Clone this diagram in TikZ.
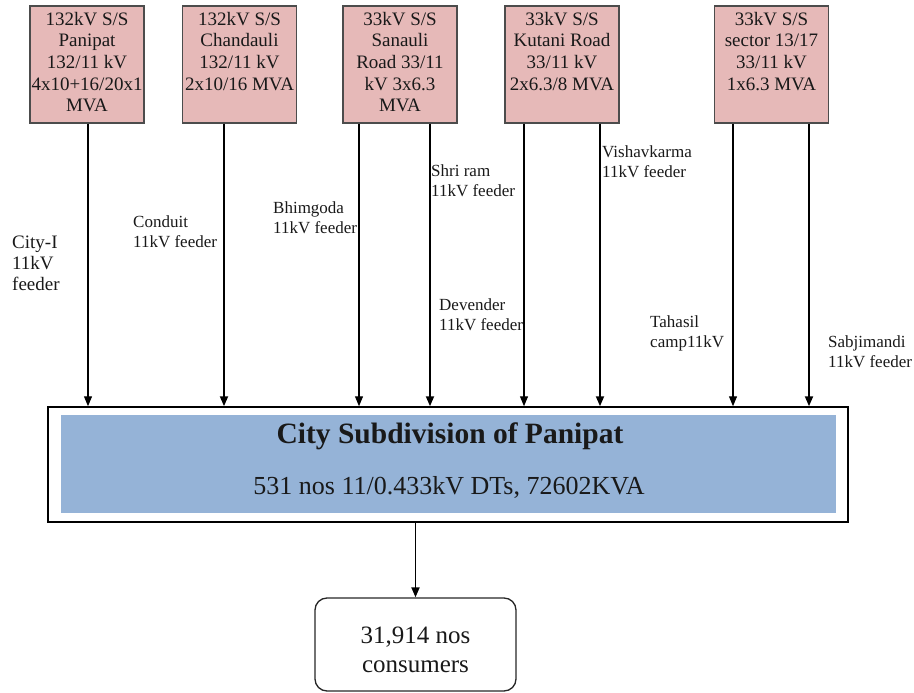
\documentclass[tikz,border=0pt]{standalone}
\usepackage{fontspec}
\setmainfont{Liberation Serif}
\usetikzlibrary{arrows.meta}
\definecolor{pinkbox}{RGB}{230,185,184}
\definecolor{bluebox}{RGB}{149,179,215}
\definecolor{txt}{RGB}{25,25,25}
\begin{document}
\begin{tikzpicture}[x=1pt,y=-1pt,
  ssbox/.style={draw=black!70, line width=1.3pt, fill=pinkbox, minimum width=114pt, minimum height=117pt, inner sep=0pt},
  sstext/.style={anchor=north, align=center, inner sep=0pt, font=\fontsize{19}{21.6}\selectfont, text=txt},
  feed/.style={anchor=north west, align=left, inner sep=0pt, font=\fontsize{17}{20}\selectfont, text=txt},
  arr/.style={-{Triangle[length=10pt,width=8pt]}, line width=1.2pt},
  arrthick/.style={-{Triangle[length=10pt,width=8pt]}, line width=1.9pt}
]
\useasboundingbox (0,0) rectangle (914,693);

% substation boxes
\node[ssbox] (b1) at (87,64.5) {};
\node[ssbox] (b2) at (239.5,64.5) {};
\node[ssbox] (b3) at (400,64.5) {};
\node[ssbox] (b4) at (562,64.5) {};
\node[ssbox] (b5) at (771.5,64.5) {};
\node[sstext] (t1) at ([yshift=-6.5pt]b1.north) {132kV S/S\\Panipat\\132/11 kV\\4x10+16/20x1\\MVA};
\node[sstext] (t2) at ([yshift=-6.5pt]b2.north) {132kV S/S\\Chandauli\\132/11 kV\\2x10/16 MVA};
\node[sstext] (t3) at ([yshift=-6.5pt]b3.north) {33kV S/S\\Sanauli\\Road 33/11\\kV 3x6.3\\MVA};
\node[sstext] (t4) at ([yshift=-6.5pt]b4.north) {33kV S/S\\Kutani Road\\33/11 kV\\2x6.3/8 MVA};
\node[sstext] (t5) at ([yshift=-6.5pt]b5.north) {33kV S/S\\sector 13/17\\33/11 kV\\1x6.3 MVA};

% subdivision box
\node[draw, line width=1.5pt, fill=white, minimum width=800pt, minimum height=115pt, inner sep=0pt] (big) at (448,464.5) {};
\node[fill=bluebox, minimum width=775pt, minimum height=98pt, inner sep=0pt] (inner) at (448.5,464) {};
\node[anchor=base, inner sep=0pt, font=\bfseries\fontsize{29.5}{31}\selectfont, text=txt] (title) at (450,443) {City Subdivision of Panipat};
\node[anchor=base, inner sep=0pt, font=\fontsize{26}{28}\selectfont, text=txt] (sub) at (449,494) {531 nos 11/0.433kV DTs, 72602KVA};

% consumers
\node[draw=black!85, rounded corners=12pt, line width=1.3pt, minimum width=201pt, minimum height=93pt, inner sep=0pt] (cons) at (415.5,644.5) {};
\node[anchor=north, align=center, inner sep=0pt, font=\fontsize{25}{29}\selectfont, text=txt] (ctext) at (415.5,626.5) {31,914 nos\\consumers};

% feeders
\coordinate (f1) at ([xshift=1pt]b1.south);
\coordinate (f2) at ([xshift=-15.5pt]b2.south);
\coordinate (f3) at ([xshift=-41pt]b3.south);
\coordinate (f4) at ([xshift=30pt]b3.south);
\coordinate (f5) at ([xshift=-38pt]b4.south);
\coordinate (f6) at ([xshift=38pt]b4.south);
\coordinate (f7) at ([xshift=-38.5pt]b5.south);
\coordinate (f8) at ([xshift=37.5pt]b5.south);
\draw[arr] (f1) -- (f1 |- big.north);
\draw[arrthick] (f2) -- (f2 |- big.north);
\draw[arr] (f3) -- (f3 |- big.north);
\draw[arrthick] (f4) -- (f4 |- big.north);
\draw[arr] (f5) -- (f5 |- big.north);
\draw[arrthick] (f6) -- (f6 |- big.north);
\draw[arr] (f7) -- (f7 |- big.north);
\draw[arrthick] (f8) -- (f8 |- big.north);
\draw[arrthick] (cons.north |- big.south) -- (cons.north);

% feeder labels
\node[feed, font=\fontsize{19}{21}\selectfont] (l1) at (12,236) {City-I\\11kV\\feeder};
\node[feed] (l2) at (133,216) {Conduit\\11kV feeder};
\node[feed] (l3) at (273,202) {Bhimgoda\\11kV feeder};
\node[feed] (l4) at (431,165) {Shri ram\\11kV feeder};
\node[feed] (l5) at (602,146) {Vishavkarma\\11kV feeder};
\node[feed] (l6) at (439,299) {Devender\\11kV feeder};
\node[feed] (l7) at (650,316) {Tahasil\\camp11kV};
\node[feed] (l8) at (828,336) {Sabjimandi\\11kV feeder};
\end{tikzpicture}
\end{document}
